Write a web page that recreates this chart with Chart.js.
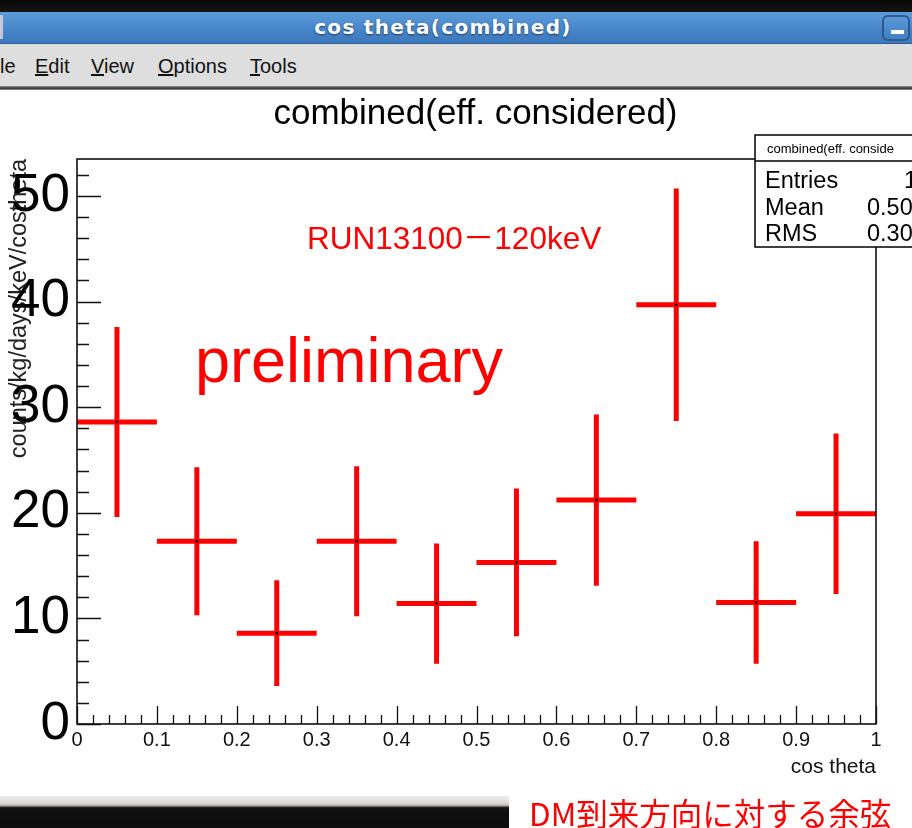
<!DOCTYPE html>
<html>
<head>
<meta charset="utf-8">
<title>cos theta(combined)</title>
<script src="https://cdn.jsdelivr.net/npm/chart.js@4.4.1/dist/chart.umd.min.js"></script>
<style>
  html, body { margin: 0; padding: 0; }
  body {
    width: 912px; height: 828px; position: relative; overflow: hidden;
    background: #fff; font-family: "Liberation Sans", Arial, sans-serif;
  }
  #topband { position: absolute; left: 0; top: 0; width: 912px; height: 12px; background: linear-gradient(#070707, #151515); }
  #titlebar {
    position: absolute; left: 0; top: 12px; width: 912px; height: 32px;
    background: linear-gradient(#5d9cda, #4584c9 60%, #3d78bc);
    border-bottom: 1px solid #2f5f95; box-sizing: border-box;
  }
  #titlebar .txt {
    position: absolute; left: 0; width: 886px; top: 3px; height: 28px; line-height: 28px;
    text-align: center; color: #fff; font: bold 20px "DejaVu Sans", sans-serif; letter-spacing: 1.3px;
    text-shadow: 0 1px 2px rgba(0,0,0,0.55);
  }
  #leftstub { position: absolute; left: 0; top: 3px; width: 3px; height: 24px; background: #c9c6d6; }
  #minbtn {
    position: absolute; left: 882px; top: 3px; width: 28px; height: 26px; box-sizing: border-box;
    border: 2px solid #2d5a8a; border-radius: 6px; background: linear-gradient(#5b98d6, #4380c4);
  }
  #minbtn i { position: absolute; left: 7px; top: 13px; width: 13px; height: 4px; background: #fff; }
  #menubar {
    position: absolute; left: 0; top: 44px; width: 912px; height: 42px; background: #dedede;
    font-size: 20px; color: #111;
  }
  #menubar span { position: absolute; top: 12px; line-height: 20px; white-space: nowrap; }
  #menuline { position: absolute; left: 0; top: 86px; width: 912px; height: 4px;
    background: linear-gradient(#9a9a9a, #4a4a4a 40%, #3a3a3a 75%, #bdbdbd); }
  #chart { position: absolute; left: 0; top: 90px; }
  #bottomleft {
    position: absolute; left: 0; top: 796px; width: 509px; height: 32px;
    background: linear-gradient(#ececec 0px, #e4e4e4 4px, #d7d0c8 8px, #a8a29b 10px, #2c2c2c 11px, #101010 13px, #0d0d0d 100%);
  }
  #jp {
    position: absolute; left: 529px; top: 789px; height: 32px; line-height: 32px;
    font: 31.5px "Noto Sans CJK JP", sans-serif; color: #ff0000; white-space: nowrap;
  }
</style>
</head>
<body>
<div id="topband"></div>
<div id="titlebar">
  <div id="leftstub"></div>
  <div class="txt">cos theta(combined)</div>
  <div id="minbtn"><i></i></div>
</div>
<div id="menubar">
  <span style="left:0px">le</span>
  <span style="left:35px"><u>E</u>dit</span>
  <span style="left:91px"><u>V</u>iew</span>
  <span style="left:158px"><u>O</u>ptions</span>
  <span style="left:250px"><u>T</u>ools</span>
</div>
<div id="menuline"></div>
<canvas id="chart" width="912" height="707"></canvas>
<div id="bottomleft"></div>
<div id="jp">DM到来方向に対する余弦</div>

<script>
const BIN_CENTERS = [0.05, 0.15, 0.25, 0.35, 0.45, 0.55, 0.65, 0.75, 0.85, 0.95];
const BIN_HALF = 0.05;
const COUNTS = [28.6, 17.3, 8.6, 17.3, 11.4, 15.3, 21.2, 39.7, 11.5, 19.9];
const ERRORS = [9.0, 7.0, 5.0, 7.1, 5.7, 7.0, 8.1, 11.0, 5.8, 7.6];

const X_TICKS = [0, 0.1, 0.2, 0.3, 0.4, 0.5, 0.6, 0.7, 0.8, 0.9, 1];
const X_TICK_LABELS = ['0', '0.1', '0.2', '0.3', '0.4', '0.5', '0.6', '0.7', '0.8', '0.9', '1'];
const Y_TICKS = [0, 10, 20, 30, 40, 50];
const Y_TICK_LABELS = ['0', '10', '20', '30', '40', '50'];
const Y_MAX = 53.5;

const STATS_HEADER = 'combined(eff. conside';
const STATS_NAMES = ['Entries', 'Mean', 'RMS'];
const STATS_VALUES = ['1', '0.50', '0.30'];

Chart.defaults.font.family = '"Liberation Sans", Arial, sans-serif';

// ROOT-style decorations: error crosses, inward ticks, frame, stats box, labels
const rootFrame = {
  id: 'rootFrame',
  beforeDatasetsDraw(chart) {
    const { ctx, scales: { x, y } } = chart;
    ctx.save();
    ctx.strokeStyle = '#ff0000';
    ctx.lineWidth = 5;
    BIN_CENTERS.forEach((c, i) => {
      const px = x.getPixelForValue(c);
      const py = y.getPixelForValue(COUNTS[i]);
      ctx.beginPath();
      ctx.moveTo(x.getPixelForValue(c - BIN_HALF), py);
      ctx.lineTo(x.getPixelForValue(c + BIN_HALF), py);
      ctx.moveTo(px, y.getPixelForValue(COUNTS[i] - ERRORS[i]));
      ctx.lineTo(px, y.getPixelForValue(COUNTS[i] + ERRORS[i]));
      ctx.stroke();
    });
    ctx.restore();
  },
  afterDraw(chart) {
    const { ctx, chartArea: a, scales: { x, y } } = chart;
    ctx.save();

    // frame
    ctx.strokeStyle = '#000';
    ctx.lineWidth = 1.5;
    ctx.strokeRect(a.left, a.top, a.right - a.left, a.bottom - a.top);

    // ticks pointing into the frame
    ctx.lineWidth = 1.3;
    ctx.strokeStyle = '#111';
    ctx.beginPath();
    for (let k = 0; k <= 26; k++) {
      const v = k * 2;
      const py = Math.round(y.getPixelForValue(v)) + 0.5;
      const len = v % 10 === 0 ? 24 : 12;
      ctx.moveTo(a.left, py);
      ctx.lineTo(a.left + len, py);
    }
    for (let k = 0; k <= 50; k++) {
      const px = Math.round(x.getPixelForValue(k / 50)) + 0.5;
      const len = k % 5 === 0 ? 18 : 9;
      ctx.moveTo(px, a.bottom);
      ctx.lineTo(px, a.bottom - len);
    }
    ctx.stroke();

    // histogram title
    ctx.fillStyle = '#000';
    ctx.textAlign = 'center';
    ctx.textBaseline = 'alphabetic';
    ctx.font = '35px "Liberation Sans", Arial, sans-serif';
    ctx.fillText('combined(eff. considered)', 475.5, 34);

    // annotations
    ctx.fillStyle = '#ff0000';
    ctx.textAlign = 'left';
    ctx.font = '31.5px "Liberation Sans", "Noto Sans CJK JP", sans-serif';
    ctx.fillText('RUN13100\uFF0D120keV', 307, 159);
    ctx.font = '63px "Liberation Sans", Arial, sans-serif';
    ctx.fillText('preliminary', 195, 292);

    // stats box
    const bx = 755, by = 45, bw = 180, bh = 112;
    ctx.fillStyle = '#fff';
    ctx.fillRect(bx, by, bw, bh);
    ctx.strokeStyle = '#000';
    ctx.lineWidth = 1.5;
    ctx.strokeRect(bx, by, bw, bh);
    ctx.beginPath();
    ctx.moveTo(bx, by + 26);
    ctx.lineTo(bx + bw, by + 26);
    ctx.stroke();
    ctx.fillStyle = '#000';
    ctx.textBaseline = 'middle';
    ctx.font = '13px "Liberation Sans", Arial, sans-serif';
    ctx.fillText(STATS_HEADER, 767, by + 14);
    ctx.font = '23.5px "Liberation Sans", Arial, sans-serif';
    const rowY = [92, 119, 145];
    STATS_NAMES.forEach((n, i) => ctx.fillText(n, 765, rowY[i]));
    const valX = [904, 867, 867];
    STATS_VALUES.forEach((v, i) => ctx.fillText(v, valX[i], rowY[i]));

    ctx.restore();
  }
};

new Chart(document.getElementById('chart'), {
  type: 'scatter',
  data: {
    datasets: [{
      data: BIN_CENTERS.map((c, i) => ({ x: c, y: COUNTS[i] })),
      showLine: false,
      pointRadius: 1.3,
      pointBorderWidth: 0,
      pointBackgroundColor: '#000',
    }],
  },
  options: {
    responsive: false,
    animation: false,
    devicePixelRatio: 1,
    layout: { padding: { left: 0, right: 36, top: 69, bottom: 0 } },
    plugins: { legend: { display: false }, tooltip: { enabled: false } },
    scales: {
      x: {
        type: 'linear',
        min: 0,
        max: 1,
        grid: { display: false, drawTicks: false },
        border: { display: false },
        afterBuildTicks: (s) => { s.ticks = X_TICKS.map((v) => ({ value: v })); },
        afterFit: (s) => { s.height = 73; },
        ticks: {
          autoSkip: false,
          maxRotation: 0,
          padding: 4,
          color: '#111',
          font: { size: 20 },
          callback: (v, i) => X_TICK_LABELS[i],
        },
        title: {
          display: true,
          text: 'cos theta',
          align: 'end',
          color: '#111',
          font: { size: 21 },
          padding: { top: 0, bottom: 17 },
        },
      },
      y: {
        type: 'linear',
        min: 0,
        max: Y_MAX,
        grid: { display: false, drawTicks: false },
        border: { display: false },
        afterBuildTicks: (s) => { s.ticks = Y_TICKS.map((v) => ({ value: v })); },
        afterFit: (s) => { s.width = 77; },
        ticks: {
          padding: 7,
          color: '#000',
          font: { size: 53 },
          callback: (v, i) => Y_TICK_LABELS[i],
        },
        title: {
          display: true,
          text: 'counts/kg/days/keV/costheta',
          align: 'end',
          color: '#222',
          font: { size: 23.5 },
          padding: { top: 5, bottom: 0 },
        },
      },
    },
  },
  plugins: [rootFrame],
});
</script>
</body>
</html>
